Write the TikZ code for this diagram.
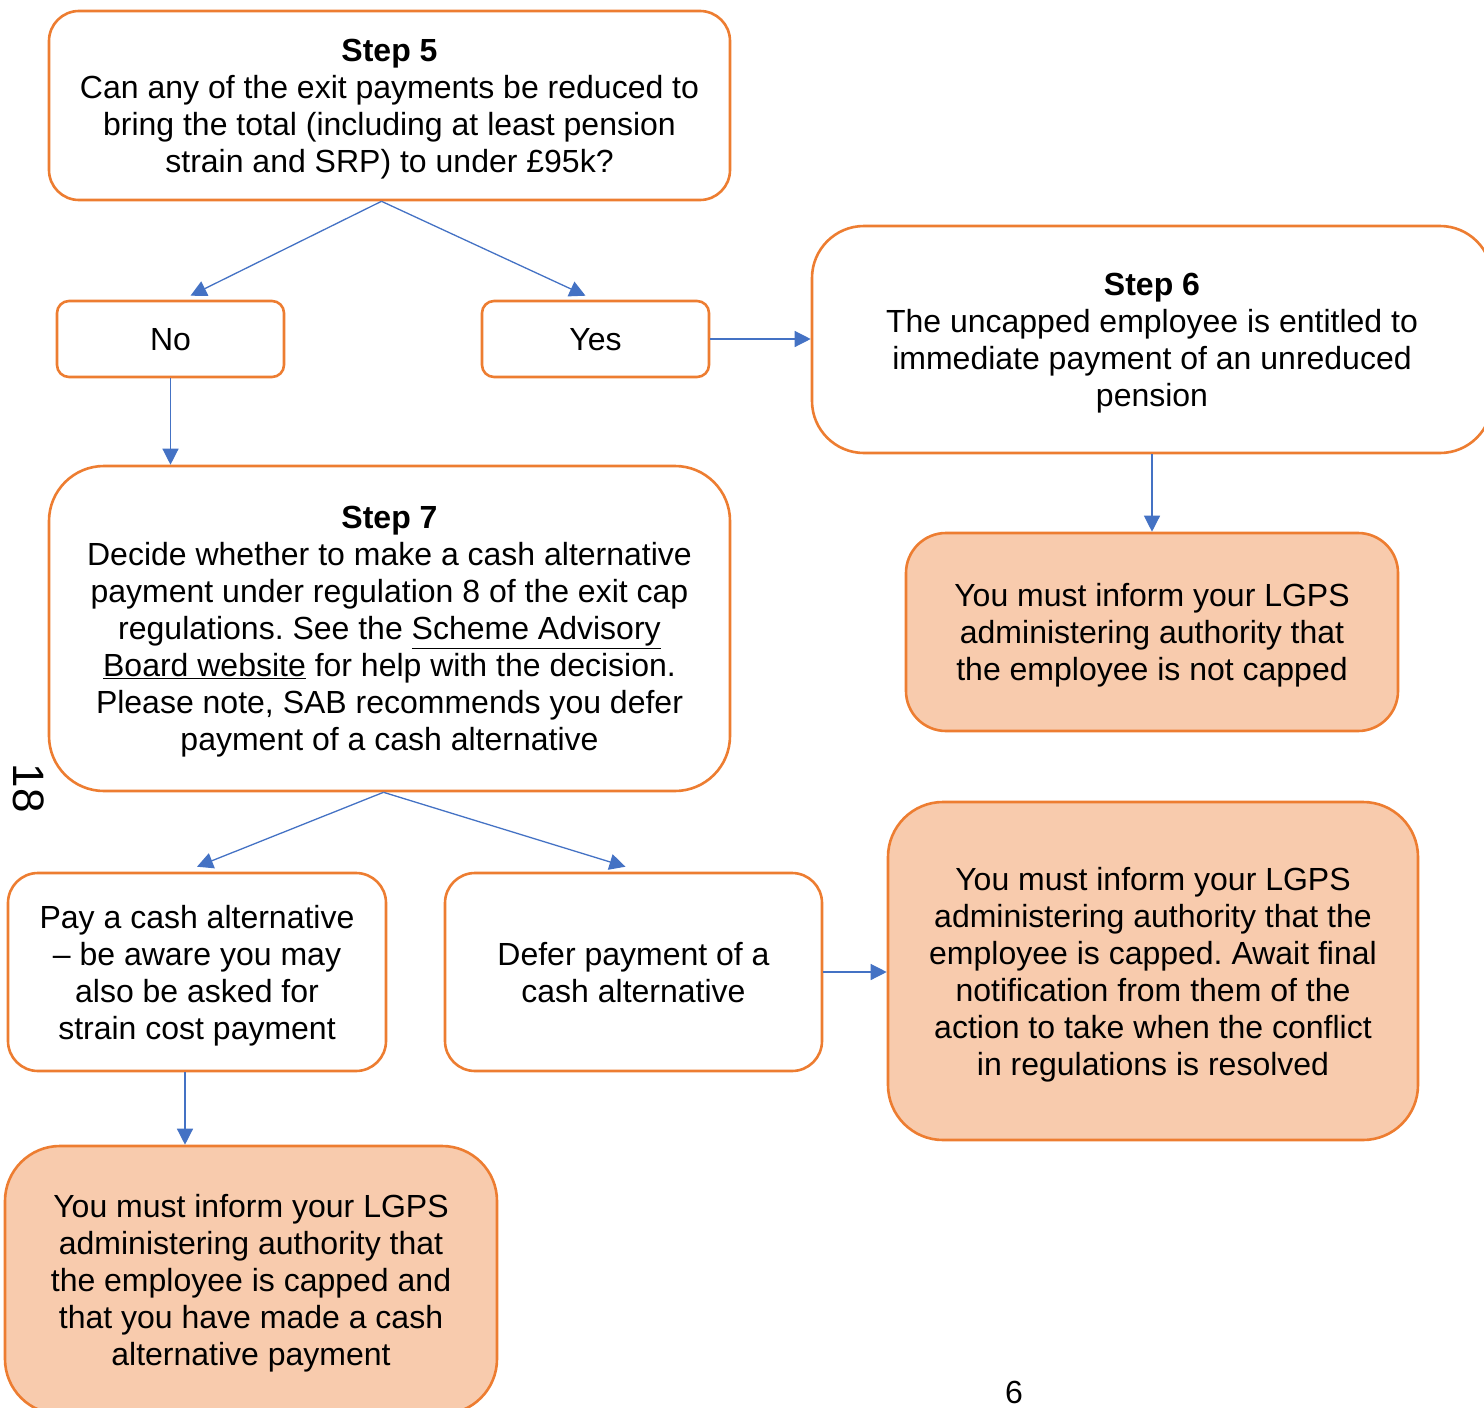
\documentclass[tikz,border=0pt]{standalone}
\usepackage{fontspec}
\setmainfont{Liberation Sans}
\usepackage{tikz}
\usetikzlibrary{arrows.meta, calc}
\usepackage{xcolor}
\frenchspacing

\definecolor{edgeorange}{HTML}{ED7D31}
\definecolor{peach}{HTML}{F8CBAD}
\definecolor{flowblue}{HTML}{4472C4}

\tikzset{
  stepbox/.style={draw=edgeorange, line width=2.6pt, fill=white, align=center,
    inner sep=0pt, text depth=0pt, font=\fontsize{32}{37}\selectfont},
  informbox/.style={stepbox, fill=peach},
  flow/.style={draw=flowblue, line width=1.3pt, -{Triangle[length=16pt,width=16pt]}}
}

\begin{document}
\begin{tikzpicture}[x=1pt, y=-1pt]
    \useasboundingbox (0,0) rectangle (1484,1408);
    % question and answers
    \node[stepbox, minimum width=681, minimum height=189, rounded corners=30] (step5) at (389.5,105.5)
      {\textbf{Step 5}\\Can any of the exit payments be reduced to\\bring the total (including at least pension\\strain and SRP) to under £95k?};
    \node[stepbox, minimum width=227, minimum height=76, rounded corners=12] (no) at (170.5,339) {No};
    \node[stepbox, minimum width=227, minimum height=76, rounded corners=12] (yes) at (595.5,339) {Yes};
    \node[stepbox, minimum width=680, minimum height=227, rounded corners=52] (step6) at (1152,339.5)
      {\textbf{Step 6}\\The uncapped employee is entitled to\\immediate payment of an unreduced\\pension};
    \node[informbox, minimum width=492, minimum height=198, rounded corners=40] (notcapped) at (1152,632)
      {You must inform your LGPS\\administering authority that\\the employee is not capped};
    \node[stepbox, minimum width=681, minimum height=325, rounded corners=55] (step7) at (389.5,628.5)
      {\textbf{Step 7}\\Decide whether to make a cash alternative\\payment under regulation 8 of the exit cap\\regulations. See the \underline{Scheme Advisory}\\\underline{Board website} for help with the decision.\\Please note, SAB recommends you defer\\payment of a cash alternative};
    \node[stepbox, minimum width=378, minimum height=198, rounded corners=30] (pay) at (197,972)
      {Pay a cash alternative\\-- be aware you may\\also be asked for\\strain cost payment};
    \node[stepbox, minimum width=377, minimum height=198, rounded corners=30] (defer) at (633.5,972)
      {Defer payment of a\\cash alternative};
    \node[informbox, minimum width=530, minimum height=338, rounded corners=55] (capped) at (1153,971)
      {You must inform your LGPS\\administering authority that the\\employee is capped. Await final\\notification from them of the\\action to take when the conflict\\in regulations is resolved};
    \node[informbox, minimum width=492, minimum height=268, rounded corners=55] (cashmade) at (251,1280)
      {You must inform your LGPS\\administering authority that\\the employee is capped and\\that you have made a cash\\alternative payment};
    % connectors
    \draw[flow] ([xshift=-8pt]step5.south) -- ([xshift=20pt,yshift=4pt]no.north);
    \draw[flow] ([xshift=-8pt]step5.south) -- ([xshift=-10pt,yshift=4pt]yes.north);
    \draw[flow] (no.south) -- (step7.north -| no.south);
    \draw[flow] (yes.east) -- (yes.east -| step6.west);
    \draw[flow] (step6.south) -- (notcapped.north);
    \draw[flow] ([xshift=-6pt]step7.south) -- ([yshift=5pt]pay.north);
    \draw[flow] ([xshift=-6pt]step7.south) -- ([xshift=-8pt,yshift=5pt]defer.north);
    \draw[flow] ([xshift=-12pt]pay.south) -- ([xshift=-66pt]cashmade.north);
    \draw[flow] (defer.east) -- (defer.east -| capped.west);
    % page numbers
    \node[rotate=-90, font=\fontsize{44}{50}\selectfont] (pageleft) at (29,788) {18};
    \node[font=\fontsize{32}{37}\selectfont] (pagebottom) at (1014,1392) {6};
\end{tikzpicture}
\end{document}
